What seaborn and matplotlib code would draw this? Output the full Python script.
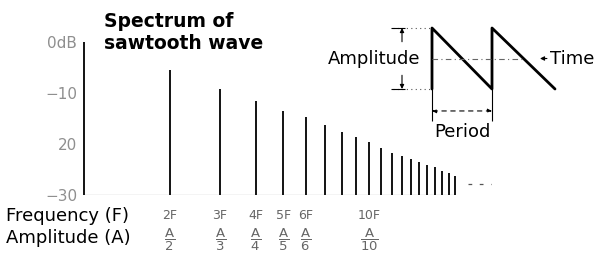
import matplotlib
matplotlib.use("Agg")
import matplotlib.pyplot as plt
import seaborn as sns

# spectrum: harmonic number and level (dB)
harmonics = [1, 2, 3, 4, 5, 6, 7, 8, 9, 10, 11, 12, 13, 14, 15, 16, 17, 18, 19, 20]
levels_db = [0, -5.5, -9.3, -11.5, -13.5, -14.7, -16.3, -17.6, -18.6, -19.7,
             -20.8, -21.7, -22.3, -22.9, -23.5, -24.1, -24.6, -25.2, -25.7, -26.3]

# labelled harmonics along the bottom
label_harmonics = [2, 3, 4, 5, 6, 10]
freq_labels = ["2F", "3F", "4F", "5F", "6F", "10F"]
amp_labels = [r"$\dfrac{\mathrm{A}}{2}$", r"$\dfrac{\mathrm{A}}{3}$",
              r"$\dfrac{\mathrm{A}}{4}$", r"$\dfrac{\mathrm{A}}{5}$",
              r"$\dfrac{\mathrm{A}}{6}$", r"$\dfrac{\mathrm{A}}{10}$"]

y_ticks = [0, -10, -20, -30]
y_tick_labels = ["0dB", "\u221210", "20", "\u221230"]

# sawtooth wave (time in periods, normalised amplitude)
saw_t = [0, 0, 1, 1, 2.05]
saw_v = [-1, 1, -1, 1, -1]

sns.set_style("white")
plt.rcParams["font.family"] = ["DejaVu Sans"]
plt.rcParams["mathtext.fontset"] = "dejavusans"
plt.rcParams["text.color"] = "black"

fig = plt.figure(figsize=(6.03, 2.54), dpi=100)
W, H = 603, 254

# ---- spectrum axes ----
ax = fig.add_axes([84 / W, (H - 195) / H, 417 / W, 168.3 / H])
ax.set_xscale("log")
ax.set_xlim(1, 29)
ax.set_ylim(-30, 3)
for s in ax.spines.values():
    s.set_visible(False)

ax.vlines(harmonics, -30, levels_db, color="black", lw=1.3, clip_on=False)
ax.hlines(-30, 1, 20, color="#444444", lw=0.8)
ax.hlines(-27.8, 22.2, 26.7, color="#555555", lw=0.9, linestyles=(0, (3, 6)))

ax.set_yticks(y_ticks)
ax.set_yticklabels(y_tick_labels, color="#8f8f8f", fontsize=11)
ax.tick_params(axis="y", length=0, pad=5)

ax.set_xticks(label_harmonics)
ax.set_xticks([], minor=True)
ax.set_xticklabels(freq_labels, fontsize=9, color="#666666")
ax.tick_params(axis="x", length=0, pad=10)

for n, lab in zip(label_harmonics, amp_labels):
    ax.annotate(lab, xy=(n, 0), xycoords=("data", "axes fraction"),
                xytext=(0, -45), textcoords="offset pixels",
                ha="center", va="center", fontsize=9.5, color="#666666",
                annotation_clip=False)

fig.text(6 / W, (H - 216) / H, "Frequency (F)", fontsize=13, va="center", ha="left")
fig.text(6 / W, (H - 238) / H, "Amplitude (A)", fontsize=13, va="center", ha="left")

fig.text(104 / W, (H - 12) / H, "Spectrum of\nsawtooth wave", fontsize=13.5,
         fontweight="bold", va="top", ha="left", linespacing=1.2)

# ---- sawtooth inset ----
ax2 = fig.add_axes([372 / W, (H - 125.6) / H, 210 / W, 112.85 / H])
ax2.set_xlim(-1, 2.5)
ax2.set_ylim(-2.2, 1.5)
ax2.axis("off")

sns.lineplot(x=saw_t, y=saw_v, sort=False, estimator=None, color="black",
             lw=2, ax=ax2, clip_on=False)

# zero line with time arrow
ax2.hlines(0, 0, 1.5, color="#666666", lw=0.8, linestyles=(0, (5, 3, 1, 3)))
ax2.annotate("Time", xy=(1.8, 0), xytext=(1.97, 0), va="center", ha="left",
             fontsize=13, annotation_clip=False,
             arrowprops=dict(arrowstyle="-|>", color="black", lw=0.8,
                             shrinkA=0, shrinkB=0, mutation_scale=6))

# amplitude dimension
ax2.hlines([1, -1], -0.65, 0, color="#555555", lw=0.8, linestyles=(0, (1, 3)))
ax2.hlines([1, -1], -0.68, -0.45, color="black", lw=0.8)
for v0, v1 in [(0.55, 1), (-0.55, -1)]:
    ax2.annotate("", xy=(-0.5, v1), xytext=(-0.5, v0),
                 arrowprops=dict(arrowstyle="-|>", color="black", lw=0.8,
                                 shrinkA=0, shrinkB=0, mutation_scale=6))
ax2.text(-0.2, 0, "Amplitude", ha="right", va="center", fontsize=13)

# period dimension
ax2.vlines([0, 1], -1, -2.05, color="black", lw=0.8, clip_on=False)
ax2.annotate("", xy=(0, -1.72), xytext=(1, -1.72),
             arrowprops=dict(arrowstyle="<|-|>", color="black", lw=0.8,
                             linestyle=(0, (4, 4)), shrinkA=0, shrinkB=0,
                             mutation_scale=6))
ax2.text(0.5, -2.1, "Period", ha="center", va="top", fontsize=13, clip_on=False)

fig.savefig("out.png", dpi=100)
